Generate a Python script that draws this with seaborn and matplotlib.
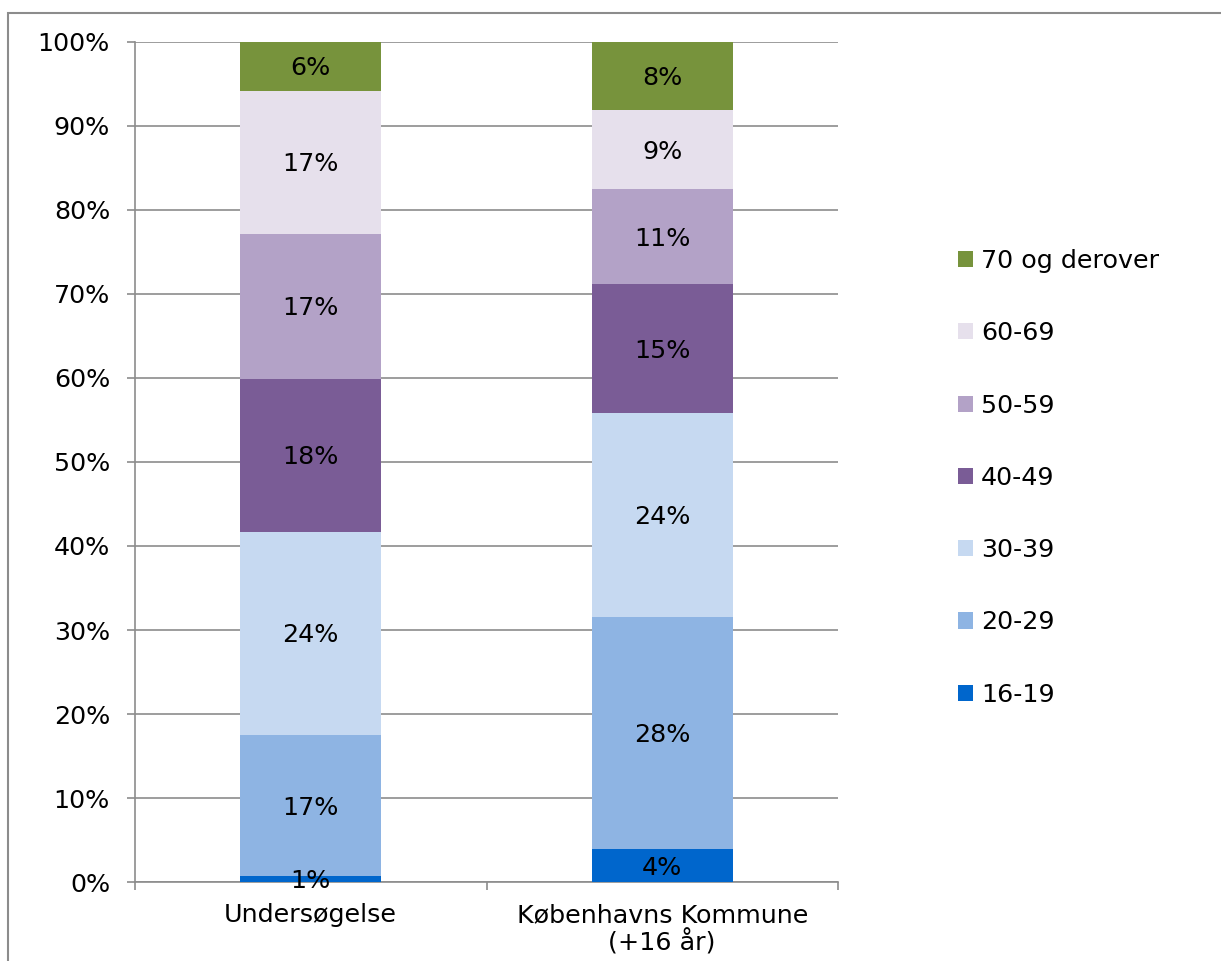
import numpy as np
import pandas as pd
import seaborn as sns
import matplotlib.pyplot as plt
from matplotlib.patches import Patch, Rectangle
from matplotlib.ticker import FuncFormatter

# data (percent of each column)
categories = ["Undersøgelse", "Københavns Kommune\n(+16 år)"]
age_groups = ["16-19", "20-29", "30-39", "40-49", "50-59", "60-69", "70 og derover"]
undersoegelse = [0.7, 16.8, 24.2, 18.2, 17.3, 17.0, 5.8]
kobenhavn = [3.9, 27.6, 24.3, 15.4, 11.3, 9.4, 8.1]
colors = ["#0066CC", "#8EB4E3", "#C6D9F1", "#7A5C96", "#B3A2C7", "#E6E0EC", "#77933C"]

df = pd.DataFrame({"Undersøgelse": undersoegelse, categories[1]: kobenhavn}, index=age_groups)

sns.set_theme(style="white")
plt.rcParams["font.family"] = ["DejaVu Sans"]
fs = 18.3

fig = plt.figure(figsize=(12.21, 9.61), dpi=100)
ax = fig.add_axes([135 / 1221, 79 / 961, (838 - 135) / 1221, (882 - 42) / 961])

grid_col = "#8c8c8c"
bottom = np.zeros(len(categories))
for grp, col in zip(age_groups, colors):
    vals = df.loc[grp].values
    sns.barplot(x=categories, y=vals, bottom=bottom, color=col, width=0.4,
                errorbar=None, saturation=1, ax=ax, zorder=3, linewidth=0)
    for i, v in enumerate(vals):
        ax.text(i, bottom[i] + v / 2 - 0.25, f"{round(v):.0f}%", ha="center", va="center",
                fontsize=fs, color="black", zorder=4)
    bottom += vals

ax.set_ylim(0, 100)
ax.set_xlim(-0.5, 1.5)
ax.set_yticks(np.arange(0, 101, 10))
ax.yaxis.set_major_formatter(FuncFormatter(lambda y, p: f"{y:.0f}%"))
ax.yaxis.grid(True, color=grid_col, linewidth=1.2, zorder=0)
ax.set_axisbelow(True)
ax.set_xlabel("")
ax.set_ylabel("")

for s in ["top", "right"]:
    ax.spines[s].set_visible(False)
for s in ["left", "bottom"]:
    ax.spines[s].set_color(grid_col)
    ax.spines[s].set_linewidth(1.2)

ax.tick_params(axis="y", which="major", left=True, length=6, width=1.2, color=grid_col,
               pad=12, labelsize=fs, labelcolor="black")
ax.set_xticks([0, 1])
ax.set_xticklabels(categories, fontsize=fs, color="black", linespacing=1.1)
ax.tick_params(axis="x", which="major", length=0, pad=15)
ax.set_xticks([-0.5, 0.5, 1.5], minor=True)
ax.tick_params(axis="x", which="minor", bottom=True, length=6, width=1.2, color=grid_col)

handles = [Patch(facecolor=c, edgecolor="none") for c in colors][::-1]
fig.legend(handles, age_groups[::-1], loc="upper left",
           bbox_to_anchor=(958 / 1221, 1 - 249 / 961), frameon=False, fontsize=fs,
           labelcolor="black", handlelength=0.6, handleheight=0.6, handletextpad=0.3,
           labelspacing=1.90, borderpad=0, borderaxespad=0)

fig.patches.append(Rectangle((8 / 1221, -0.1), 1.2, 1 - 13 / 961 + 0.1,
                             transform=fig.transFigure, fill=False,
                             edgecolor=grid_col, linewidth=1.5))

fig.savefig("out.png", dpi=100)
